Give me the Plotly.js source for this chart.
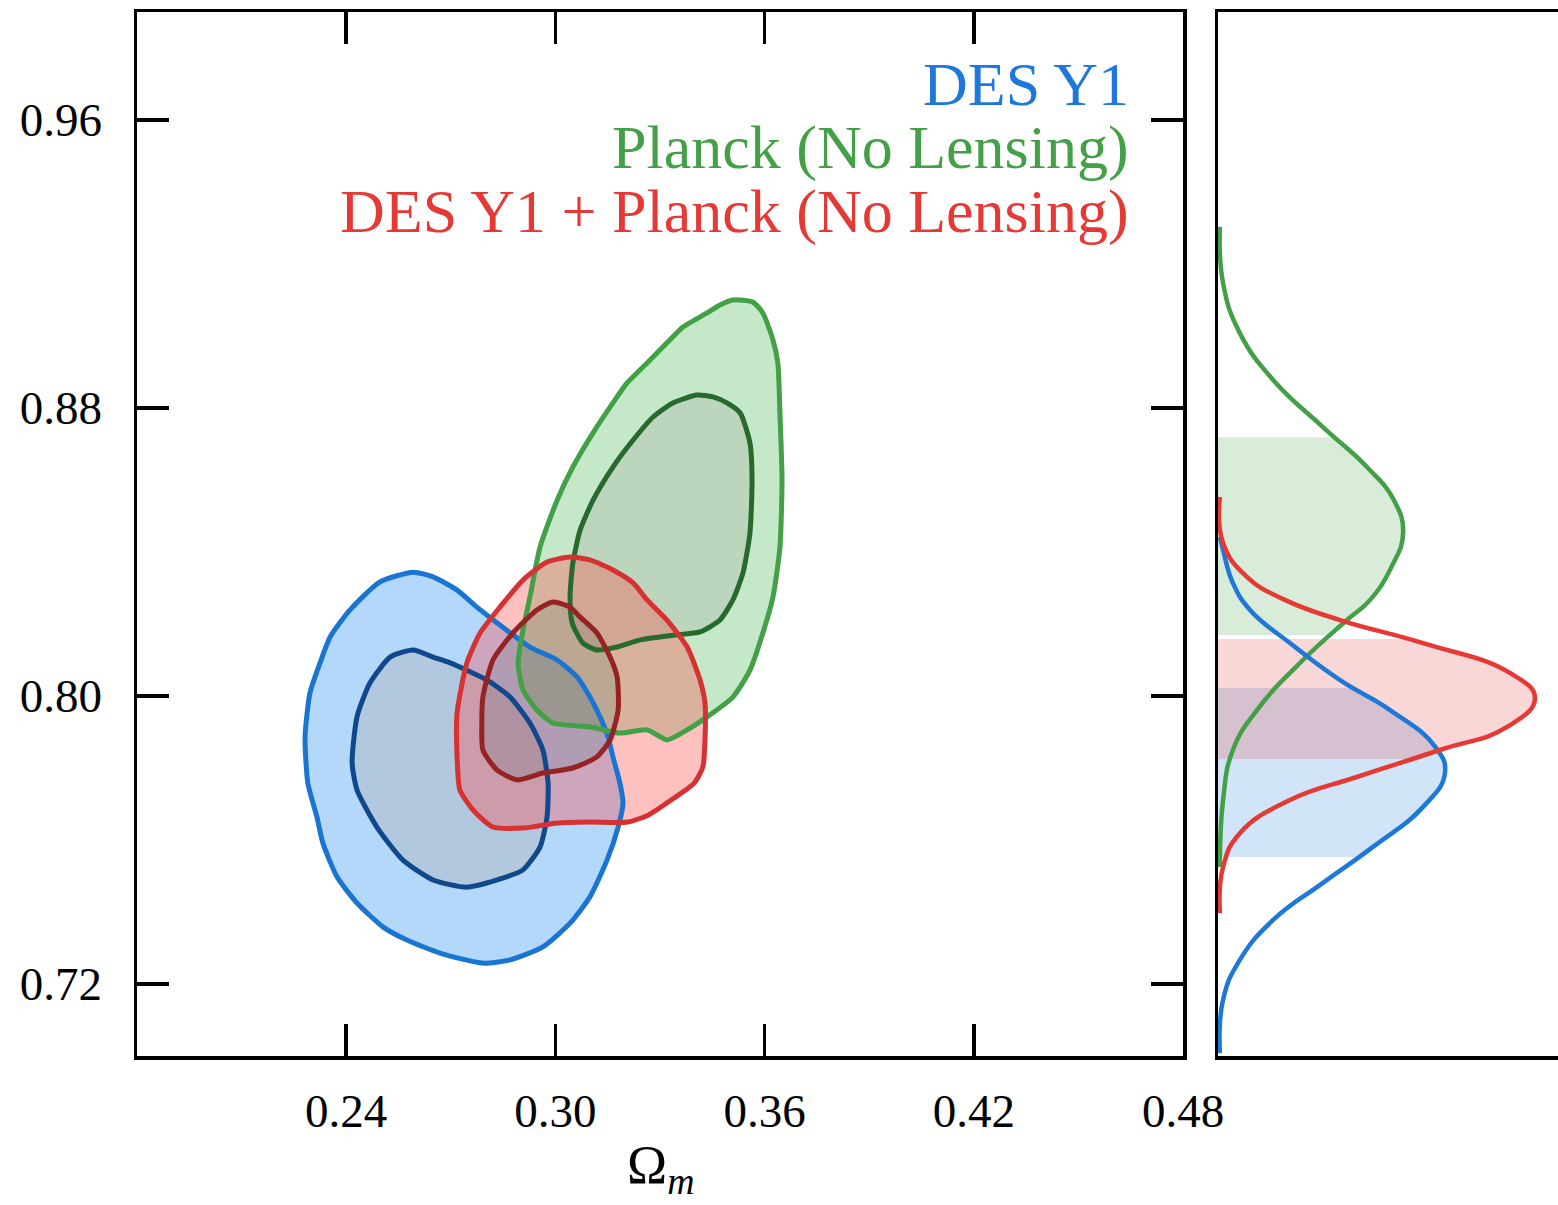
<!DOCTYPE html>
<html><head><meta charset="utf-8">
<script src="https://cdn.plot.ly/plotly-3.0.1.min.js"></script>
<style>html,body{margin:0;padding:0;background:#fff;}#chart{width:1558px;height:1205px;}</style>
</head><body><div id="chart"></div>
<script>
// ---------- 2D contours (Omega_m, S8) ----------
const desOuterOm = [0.2592,0.2497,0.2411,0.2354,0.2325,0.2296,0.2282,0.2290,0.2316,0.2333,0.2374,0.2431,0.2506,0.2574,0.2669,0.2792,0.2870,0.2964,0.3042,0.3099,0.3148,0.3180,0.3194,0.3185,0.3165,0.3151,0.3128,0.3099,0.3062,0.3005,0.2927,0.2833,0.2775,0.2718,0.2649];
const desOuterS8 = [0.8344,0.8317,0.8239,0.8164,0.8092,0.8008,0.7886,0.7758,0.7664,0.7592,0.7497,0.7425,0.7358,0.7322,0.7286,0.7258,0.7267,0.7303,0.7369,0.7442,0.7544,0.7636,0.7703,0.7758,0.7831,0.7886,0.7942,0.7997,0.8053,0.8100,0.8136,0.8203,0.8247,0.8294,0.8331];
const desInnerOm = [0.2592,0.2526,0.2468,0.2431,0.2417,0.2431,0.2488,0.2563,0.2649,0.2746,0.2833,0.2907,0.2956,0.2976,0.2979,0.2964,0.2927,0.2870,0.2804,0.2698,0.2649];
const desInnerS8 = [0.8128,0.8108,0.8036,0.7942,0.7814,0.7739,0.7636,0.7544,0.7489,0.7469,0.7489,0.7517,0.7581,0.7664,0.7758,0.7850,0.7925,0.7997,0.8044,0.8092,0.8108];

const planckOuterOm = [0.3509,0.3567,0.3595,0.3624,0.3638,0.3644,0.3650,0.3644,0.3624,0.3595,0.3558,0.3509,0.3435,0.3378,0.3320,0.3263,0.3185,0.3099,0.2993,0.2947,0.2907,0.2893,0.2907,0.2927,0.2956,0.3005,0.3050,0.3108,0.3165,0.3205,0.3263,0.3320,0.3366,0.3435,0.3472];
const planckOuterS8 = [0.9100,0.9094,0.9064,0.8989,0.8925,0.8786,0.8600,0.8414,0.8275,0.8175,0.8072,0.7997,0.7942,0.7906,0.7878,0.7906,0.7897,0.7914,0.7925,0.7961,0.8017,0.8092,0.8183,0.8275,0.8414,0.8544,0.8636,0.8731,0.8814,0.8869,0.8925,0.8981,0.9025,0.9064,0.9086];
const planckInnerOm = [0.3406,0.3337,0.3280,0.3223,0.3165,0.3108,0.3071,0.3050,0.3042,0.3048,0.3079,0.3119,0.3177,0.3243,0.3337,0.3415,0.3472,0.3509,0.3538,0.3558,0.3564,0.3558,0.3530,0.3492,0.3452];
const planckInnerS8 = [0.8836,0.8814,0.8775,0.8711,0.8636,0.8544,0.8461,0.8369,0.8275,0.8203,0.8147,0.8128,0.8136,0.8156,0.8169,0.8178,0.8211,0.8267,0.8342,0.8453,0.8600,0.8703,0.8786,0.8814,0.8831];

const combOuterOm = [0.3042,0.2976,0.2907,0.2841,0.2784,0.2746,0.2718,0.2718,0.2726,0.2764,0.2821,0.2907,0.3005,0.3099,0.3208,0.3266,0.3320,0.3398,0.3423,0.3429,0.3429,0.3415,0.3378,0.3320,0.3263,0.3223,0.3165,0.3099];
const combOuterS8 = [0.8386,0.8372,0.8322,0.8247,0.8175,0.8092,0.7953,0.7831,0.7739,0.7683,0.7636,0.7633,0.7647,0.7650,0.7650,0.7669,0.7703,0.7758,0.7803,0.7878,0.7981,0.8044,0.8136,0.8211,0.8267,0.8314,0.8350,0.8378];
const combInnerOm = [0.2993,0.2947,0.2878,0.2821,0.2792,0.2789,0.2792,0.2833,0.2890,0.2964,0.3050,0.3119,0.3157,0.3180,0.3177,0.3157,0.3119,0.3071,0.3042];
const combInnerS8 = [0.8261,0.8239,0.8175,0.8100,0.7997,0.7925,0.7850,0.7794,0.7767,0.7786,0.7800,0.7831,0.7878,0.7961,0.8053,0.8108,0.8175,0.8219,0.8247];

// ---------- 1D marginals of S8 ----------
const desMargS8 = [0.7008,0.7156,0.7267,0.7378,0.7481,0.7581,0.7692,0.7786,0.7858,0.7961,0.8044,0.8147,0.8239,0.8314,0.8406,0.8442];
const desMargP  = [0.006,0.016,0.069,0.174,0.331,0.489,0.647,0.716,0.686,0.543,0.385,0.227,0.101,0.047,0.016,0.006];
const combMargS8 = [0.7397,0.7525,0.7619,0.7711,0.7775,0.7850,0.7914,0.7994,0.8064,0.8147,0.8211,0.8267,0.8331,0.8425,0.8553];
const combMargP  = [0.006,0.016,0.069,0.227,0.438,0.700,0.912,1.000,0.921,0.647,0.385,0.211,0.091,0.016,0.006];
const planckMargS8 = [0.7525,0.7711,0.7850,0.7961,0.8100,0.8211,0.8267,0.8358,0.8453,0.8544,0.8636,0.8747,0.8878,0.9008,0.9147,0.9303];
const planckMargP  = [0.006,0.016,0.047,0.123,0.268,0.407,0.480,0.547,0.584,0.555,0.470,0.331,0.174,0.069,0.016,0.006];
// 68% bands in S8
const desBand = [0.7553, 0.8022];
const combBand = [0.7825, 0.8158];
const planckBand = [0.8169, 0.8719];

const seriesNames = ['DES Y1', 'Planck (No Lensing)', 'DES Y1 + Planck (No Lensing)'];
const xTitle = 'Ω<sub><i>m</i></sub>';
const omTicks = [0.24, 0.30, 0.36, 0.42, 0.48];
const omTickText = ['0.24', '0.30', '0.36', '0.42', '0.48'];
const s8Ticks = [0.72, 0.80, 0.88, 0.96];
const s8TickText = ['0.72', '0.80', '0.88', '0.96'];

// ---------- helpers ----------
function area(x, y) { let a = 0; for (let i = 0; i < x.length; i++) { const j = (i + 1) % x.length; a += x[i] * y[j] - x[j] * y[i]; } return a; }
function ring(ox, oy, ix, iy) {
  let IX = ix.slice(), IY = iy.slice();
  if (Math.sign(area(ox, oy)) === Math.sign(area(ix, iy))) { IX.reverse(); IY.reverse(); }
  let best = 0, bd = 1e9;
  for (let j = 0; j < IX.length; j++) { const d = (IX[j] - ox[0]) ** 2 + (IY[j] - oy[0]) ** 2; if (d < bd) { bd = d; best = j; } }
  const X = ox.concat([ox[0]]), Y = oy.concat([oy[0]]);
  for (let k = 0; k <= IX.length; k++) { const j = (best + k) % IX.length; X.push(IX[j]); Y.push(IY[j]); }
  X.push(ox[0]); Y.push(oy[0]);
  return [X, Y];
}
function closed(a) { return a.concat([a[0]]); }
function band(s8, p, lo, hi) {
  const interp = (v) => { for (let i = 0; i < s8.length - 1; i++) { if (s8[i] <= v && v <= s8[i + 1]) { const t = (v - s8[i]) / (s8[i + 1] - s8[i]); return p[i] + t * (p[i + 1] - p[i]); } } return 0; };
  const Y = [lo], X = [interp(lo)];
  for (let i = 0; i < s8.length; i++) if (s8[i] > lo && s8[i] < hi) { Y.push(s8[i]); X.push(p[i]); }
  Y.push(hi); X.push(interp(hi));
  return [X, Y];
}

const sets = [
  {name: seriesNames[0], ox: desOuterOm, oy: desOuterS8, ix: desInnerOm, iy: desInnerS8, ringFill: 'rgba(38,144,241,0.35)', innerFill: 'rgba(35,98,161,0.35)', outerLine: 'rgb(26,117,210)', innerLine: 'rgb(16,72,140)'},
  {name: seriesNames[1], ox: planckOuterOm, oy: planckOuterS8, ix: planckInnerOm, iy: planckInnerS8, ringFill: 'rgba(89,189,98,0.35)', innerFill: 'rgba(64,138,69,0.35)', outerLine: 'rgb(67,160,71)', innerLine: 'rgb(40,105,45)'},
  {name: seriesNames[2], ox: combOuterOm, oy: combOuterS8, ix: combInnerOm, iy: combInnerS8, ringFill: 'rgba(255,75,75,0.35)', innerFill: 'rgba(172,46,45,0.35)', outerLine: 'rgb(214,50,50)', innerLine: 'rgb(150,35,35)'}
];

const traces = [];
sets.forEach(s => {
  const r = ring(s.ox, s.oy, s.ix, s.iy);
  traces.push({x: r[0], y: r[1], type: 'scatter', mode: 'none', fill: 'toself', fillcolor: s.ringFill, hoverinfo: 'skip', name: s.name});
  traces.push({x: closed(s.ix), y: closed(s.iy), type: 'scatter', mode: 'none', fill: 'toself', fillcolor: s.innerFill, hoverinfo: 'skip', name: s.name});
});
sets.forEach(s => {
  traces.push({x: closed(s.ox), y: closed(s.oy), type: 'scatter', mode: 'lines', line: {color: s.outerLine, width: 5, shape: 'spline', smoothing: 0.6}, hoverinfo: 'skip', name: s.name});
  traces.push({x: closed(s.ix), y: closed(s.iy), type: 'scatter', mode: 'lines', line: {color: s.innerLine, width: 5, shape: 'spline', smoothing: 0.6}, hoverinfo: 'skip', name: s.name});
});

const marg = [
  {s8: planckMargS8, p: planckMargP, b: planckBand, line: 'rgb(67,160,71)', fill: 'rgba(67,160,71,0.2)'},
  {s8: desMargS8, p: desMargP, b: desBand, line: 'rgb(30,120,215)', fill: 'rgba(30,120,215,0.2)'},
  {s8: combMargS8, p: combMargP, b: combBand, line: 'rgb(229,57,53)', fill: 'rgba(229,57,53,0.2)'}
];
marg.forEach(m => {
  const bb = band(m.s8, m.p, m.b[0], m.b[1]);
  traces.push({x: bb[0], y: bb[1], xaxis: 'x2', yaxis: 'y2', type: 'scatter', mode: 'none', fill: 'tozerox', fillcolor: m.fill, line: {shape: 'spline', smoothing: 1.3}, hoverinfo: 'skip'});
});
marg.forEach(m => {
  traces.push({x: m.p, y: m.s8, xaxis: 'x2', yaxis: 'y2', type: 'scatter', mode: 'lines', line: {color: m.line, width: 4.5, shape: 'spline', smoothing: 1.3}, hoverinfo: 'skip'});
});

const W = 1558, H = 1205;
const axBase = {showgrid: false, zeroline: false, showline: true, linecolor: 'black', linewidth: 3.5};
const ann = (text, x, y, size, color, xa) => ({text: text, x: x, y: y, xref: 'paper', yref: 'paper', xanchor: xa, yanchor: 'middle', showarrow: false, borderpad: 0, font: {size: size, color: color, family: 'Liberation Serif, serif'}});
const layout = {
  width: W, height: H, margin: {l: 0, r: 0, t: 0, b: 0}, showlegend: false,
  paper_bgcolor: 'white', plot_bgcolor: 'white',
  font: {family: 'Liberation Serif, serif', color: 'black'},
  xaxis: Object.assign({}, axBase, {domain: [137 / W, 1183 / W], range: [0.18, 0.48], tickmode: 'array', tickvals: omTicks, ticktext: omTickText,
    ticks: 'inside', ticklen: 32, tickwidth: 3.5, tickcolor: 'black', mirror: 'allticks', tickfont: {size: 47}, ticklabelstandoff: 11}),
  yaxis: Object.assign({}, axBase, {domain: [1 - 1056 / H, 1 - 12 / H], range: [0.70, 0.99], tickmode: 'array', tickvals: s8Ticks, ticktext: s8TickText,
    ticks: 'inside', ticklen: 32, tickwidth: 3.5, tickcolor: 'black', mirror: 'allticks', tickfont: {size: 47}, ticklabelstandoff: 22}),
  xaxis2: Object.assign({}, axBase, {domain: [1218 / W, 1], range: [0, 1.0726], anchor: 'y2', mirror: true, ticks: '', showticklabels: false}),
  yaxis2: Object.assign({}, axBase, {domain: [1 - 1056 / H, 1 - 12 / H], range: [0.70, 0.99], anchor: 'x2', ticks: '', showticklabels: false}),
  annotations: [
    ann(seriesNames[0], 1130 / W, 1 - 84 / H, 62, 'rgb(30,120,220)', 'right'),
    ann(seriesNames[1], 1130 / W, 1 - 147 / H, 62, 'rgb(67,160,71)', 'right'),
    ann(seriesNames[2], 1130 / W, 1 - 211 / H, 62, 'rgb(229,57,53)', 'right'),
    ann(xTitle, 660 / W, 1 - 1168 / H, 54, 'black', 'center')
  ]
};
Plotly.newPlot('chart', traces, layout, {staticPlot: true, displayModeBar: false});
</script>
</body></html>
